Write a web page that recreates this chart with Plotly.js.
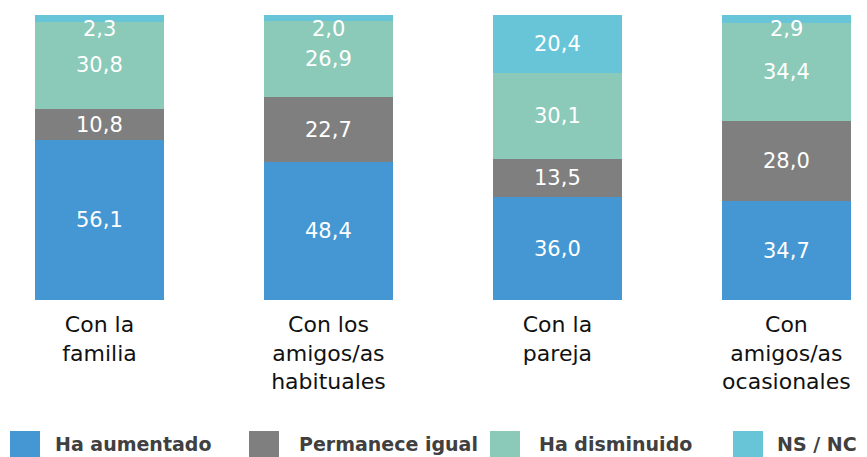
<!DOCTYPE html>
<html>
<head>
<meta charset="utf-8">
<script src="https://cdn.plot.ly/plotly-3.0.1.min.js"></script>
<style>
  html, body { margin: 0; padding: 0; background: #fff; }
  #chart { width: 867px; height: 457px; }
</style>
</head>
<body>
<div id="chart"></div>
<script>
// data
var categories = ['Con la<br>familia', 'Con los<br>amigos/as<br>habituales', 'Con la<br>pareja', 'Con<br>amigos/as<br>ocasionales'];
var seriesNames = ['Ha aumentado', 'Permanece igual', 'Ha disminuido', 'NS / NC'];
var haAumentado = [56.1, 48.4, 36.0, 34.7];
var permaneceIgual = [10.8, 22.7, 13.5, 28.0];
var haDisminuido = [30.8, 26.9, 30.1, 34.4];
var nsNc = [2.3, 2.0, 20.4, 2.9];

var colors = ['#4597d3', '#7f7f7f', '#8bcab8', '#68c5d8'];
var series = [haAumentado, permaneceIgual, haDisminuido, nsNc];

function fmt(v) {
  return v.toFixed(1).replace('.', ',');
}

var data = [];
var annotations = [];
var shapes = [];
var base = [0, 0, 0, 0];

for (var s = 0; s < series.length; s++) {
  data.push({
    type: 'bar',
    x: categories,
    y: series[s],
    name: seriesNames[s],
    marker: {color: colors[s]},
    hoverinfo: 'none'
  });
  for (var i = 0; i < categories.length; i++) {
    var v = series[s][i];
    var ann = {
      x: categories[i],
      y: base[i] + v / 2,
      xref: 'x', yref: 'y',
      text: fmt(v),
      showarrow: false,
      font: {family: 'DejaVu Sans', size: 21, color: '#ffffff'}
    };
    // thin top segments: label hangs from the top of the bar
    if (v < 5) {
      ann.y = base[i] + v;
      ann.yanchor = 'top';
    }
    annotations.push(ann);
    base[i] += v;
  }
}

// legend drawn by hand so the swatches can be big
var legendBoxX = [10, 249, 490, 733];
var legendTextX = [53, 297, 537, 775];
for (var k = 0; k < seriesNames.length; k++) {
  shapes.push({
    type: 'rect', xref: 'paper', yref: 'paper',
    x0: legendBoxX[k] / 867, x1: (legendBoxX[k] + 30) / 867,
    y0: (300 - 431) / 285, y1: (300 - 458) / 285,
    fillcolor: colors[k], line: {width: 0}
  });
  annotations.push({
    xref: 'paper', yref: 'paper',
    x: legendTextX[k] / 867, y: (300 - 444) / 285,
    xanchor: 'left', yanchor: 'middle',
    text: '<b>' + seriesNames[k] + '</b>',
    showarrow: false,
    font: {family: 'DejaVu Sans', size: 19, color: '#404040'}
  });
}

var layout = {
  barmode: 'stack',
  bargap: 0.437,
  showlegend: false,
  width: 867,
  height: 457,
  margin: {l: 0, r: 0, t: 15, b: 157},
  paper_bgcolor: '#ffffff',
  plot_bgcolor: '#ffffff',
  xaxis: {
    type: 'category',
    range: [-0.4345, 3.352],
    showgrid: false,
    zeroline: false,
    showline: false,
    ticks: '',
    ticklabelstandoff: 9,
    tickfont: {family: 'DejaVu Sans', size: 22, color: '#111111'},
    fixedrange: true
  },
  yaxis: {
    range: [0, 100],
    visible: false,
    showgrid: false,
    zeroline: false,
    fixedrange: true
  },
  annotations: annotations,
  shapes: shapes
};

Plotly.newPlot('chart', data, layout, {displayModeBar: false, staticPlot: true});
</script>
</body>
</html>
